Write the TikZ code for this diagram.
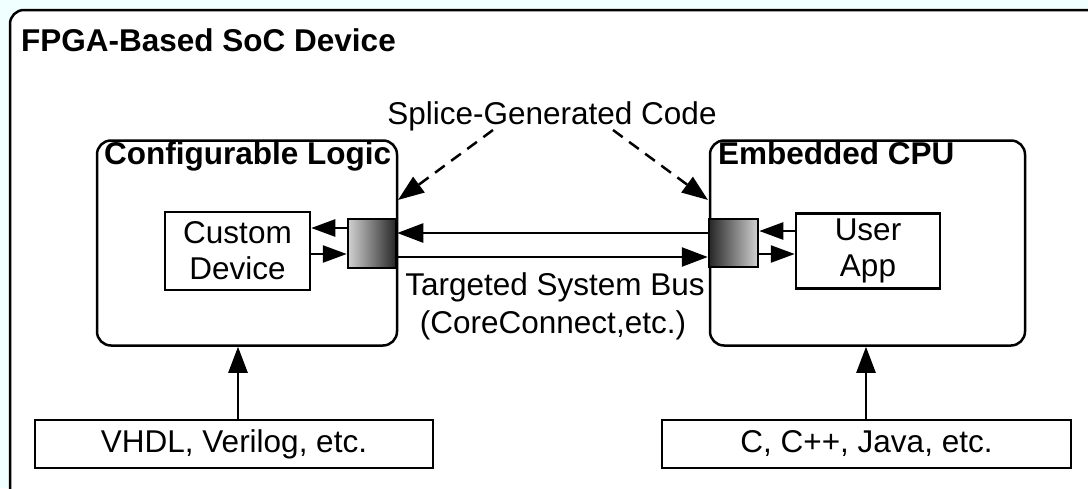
\documentclass[tikz,border=0pt]{standalone}
\usepackage{fontspec}
\setmainfont{Liberation Sans}
\usetikzlibrary{arrows.meta}
\definecolor{bgcyan}{RGB}{240,255,255}
\begin{document}
\begin{tikzpicture}[x=1pt,y=-1pt,
  txt/.style={font=\fontsize{31.5}{38}\selectfont, inner sep=0pt},
  btxt/.style={font=\fontsize{31.5}{38}\selectfont\bfseries, inner sep=0pt},
  rbox/.style={draw, line width=2.5pt, rounded corners=14pt, fill=white},
  sbox/.style={draw, line width=2.5pt, fill=white, inner sep=0pt, align=center, font=\fontsize{31.5}{36}\selectfont},
  grad/.style={draw, line width=2.5pt, inner sep=0pt},
  arr/.style={line width=2.5pt, -{Triangle[length=26pt,width=19pt]}},
  parr/.style={line width=2.5pt, -{Triangle[length=24pt,width=17pt]}},
  darr/.style={line width=2.5pt, dash pattern=on 12pt off 8pt, -{Triangle[length=26pt,width=19pt]}}
]
\useasboundingbox (0,0) rectangle (1088,488);
\fill[bgcyan] (0,0) rectangle (1088,488);
\clip (0,0) rectangle (1088,488);
\draw[line width=2.5pt, rounded corners=14pt, fill=white] (10,10) rectangle (1110,510);
\node[btxt, anchor=base west] (title) at (21,51) {FPGA-Based SoC Device};

% main boxes
\node[rbox, minimum width=300pt, minimum height=205pt] (cl) at (247,243) {};
\node[rbox, minimum width=315pt, minimum height=205pt] (cpu) at (867.5,243) {};
\node[btxt, anchor=base west] (cltitle) at (104,164) {Configurable Logic};
\node[btxt, anchor=base west] (cputitle) at (718,164) {Embedded CPU};

% inner boxes
\node[sbox, minimum width=145pt, minimum height=78pt] (cd) at (237.5,251) {Custom\\Device};
\node[sbox, minimum width=144pt, minimum height=75pt] (ua) at (868,251) {User\\App};

% gradient ports
\node[grad, minimum width=48pt, minimum height=49pt, left color=black!18, right color=black!85] (lp) at (372,243.5) {};
\node[grad, minimum width=49pt, minimum height=48pt, left color=black!85, right color=black!18] (rp) at (733.5,243) {};

% port arrows
\draw[parr] (lp.west |- 0,228) -- (cd.east |- 0,228);
\draw[parr] (cd.east |- 0,254) -- (lp.west |- 0,254);
\draw[parr] (ua.west |- 0,231) -- (rp.east |- 0,231);
\draw[parr] (rp.east |- 0,254) -- (ua.west |- 0,254);

% bus arrows
\draw[arr] (rp.west |- 0,233) -- (lp.east |- 0,233);
\draw[arr] (lp.east |- 0,257) -- (rp.west |- 0,257);

% labels
\node[txt, anchor=base] (splice) at (552,124) {Splice-Generated Code};
\node[txt, anchor=base] (bus1) at (555,295) {Targeted System Bus};
\node[txt, anchor=base] (bus2) at (553,333) {(CoreConnect,etc.)};

% dashed arrows
\coordinate (sl) at (493,130);
\coordinate (sr) at (613,130);
\coordinate (tl) at (398,200);
\coordinate (tr) at (708,200);
\draw[darr] (sl) -- (tl);
\draw[darr] (sr) -- (tr);

% bottom boxes
\node[sbox, minimum width=398pt, minimum height=48pt] (vh) at (234,444) {VHDL, Verilog, etc.};
\node[sbox, minimum width=409pt, minimum height=48pt] (cc) at (866.5,444) {C, C++, Java, etc.};
\draw[arr] (vh.north -| 238,0) -- (cl.south -| 238,0);
\draw[arr] (cc.north -| 866,0) -- (cpu.south -| 866,0);
\end{tikzpicture}
\end{document}
